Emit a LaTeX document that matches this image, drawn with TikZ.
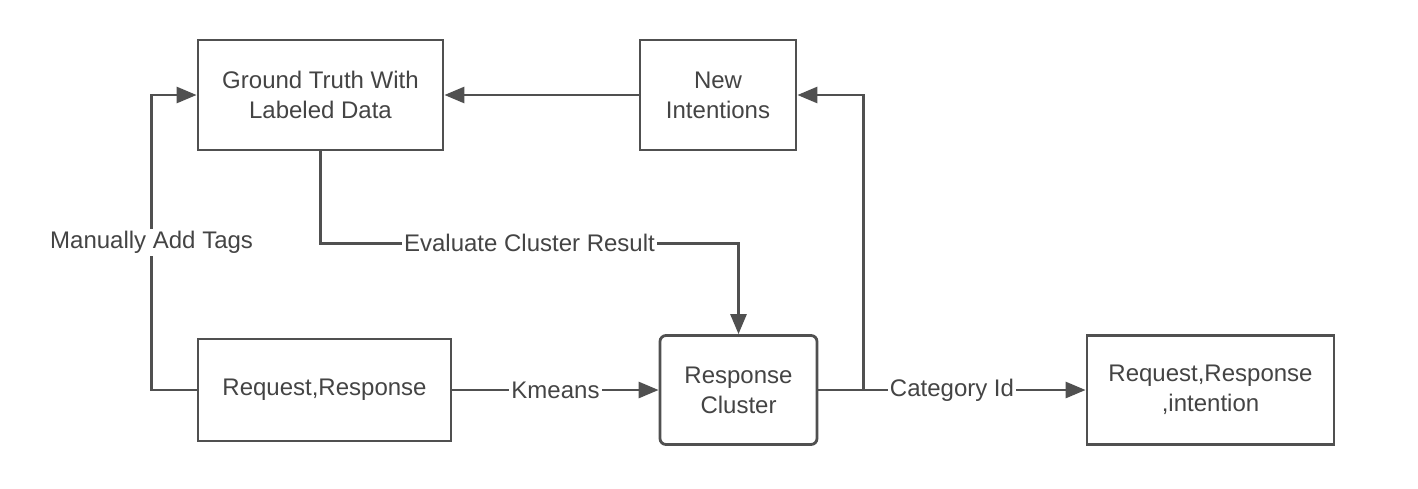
\documentclass[tikz,border=0pt]{standalone}
\usepackage{fontspec}
\setmainfont{Liberation Sans}
\usepackage{xcolor}
\usetikzlibrary{arrows.meta}
\definecolor{linegray}{HTML}{505050}
\definecolor{textgray}{HTML}{444444}

\begin{document}
\begin{tikzpicture}[
  x=0.5pt, y=-0.5pt,
  font=\fontsize{12}{15}\selectfont, text=textgray,
  box/.style={draw=linegray, line width=1.4pt, align=center, inner sep=2pt, fill=white},
  lbl/.style={fill=white, inner sep=1pt, text=textgray},
  arr/.style={-{Triangle[length=10pt, width=8pt]}, draw=linegray, line width=1.4pt}
]
\useasboundingbox (0,0) rectangle (1418,488);
\node[box, minimum width=122.5pt, minimum height=55pt] (gt) at (320.5,95) {Ground Truth With\\Labeled Data};
\node[box, minimum width=78pt, minimum height=55pt] (newint) at (718,95) {New\\Intentions};
\node[box, minimum width=126.5pt, minimum height=51pt] (reqres) at (324.5,390) {Request,Response};
\node[box, rounded corners=3pt, minimum width=78.5pt, minimum height=54.5pt] (cluster) at (738.5,390) {Response\\Cluster};
\node[box, minimum width=123.5pt, minimum height=54.5pt] (result) at (1210.5,390) {Request,Response\\,intention};

\draw[arr] (newint) -- (gt);
\draw[arr] (reqres.west) -- ++(-45,0) |- node[lbl, pos=0.25] {Manually Add Tags} (gt.west);
\draw[arr] (gt.south) -- ++(0,92) -| node[lbl, pos=0.25] {Evaluate Cluster Result} (cluster.north);
\draw[arr] (reqres) -- node[lbl] {Kmeans} (cluster);
\draw[arr] (cluster.east) -- ++(45,0) |- (newint.east);
\draw[arr] (cluster.east) -- node[lbl] {Category Id} (result.west);
\end{tikzpicture}
\end{document}
